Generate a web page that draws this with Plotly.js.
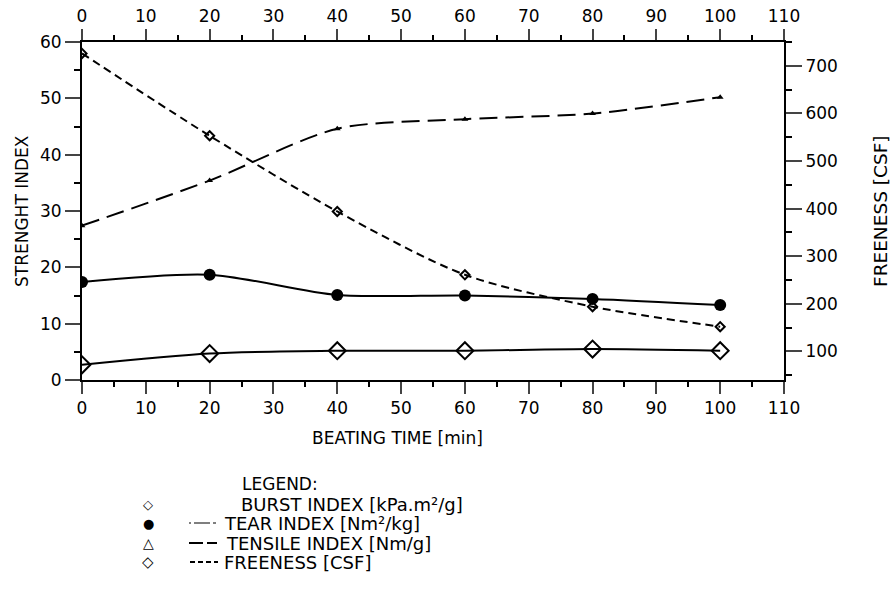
<!DOCTYPE html>
<html>
<head>
<meta charset="utf-8">
<script src="https://cdn.plot.ly/plotly-3.0.1.min.js"></script>
<style>html,body{margin:0;padding:0;background:#fff;}#chart{width:895px;height:594px;}</style>
</head>
<body>
<div id="chart"></div>
<script>
// ---- data ----
var beatingTime = [0, 20, 40, 60, 80, 100];
var burstIndex  = [2.7, 4.7, 5.2, 5.2, 5.5, 5.2];
var tearIndex   = [17.4, 18.7, 15.1, 15.0, 14.4, 13.3];
var tensileIndex = [27.4, 35.4, 44.6, 46.3, 47.3, 50.2];
var freeness    = [726, 553, 394, 261, 194, 152];

var legendTitle = "LEGEND:";
var legendLabels = ["BURST INDEX [kPa.m²/g]", "TEAR INDEX [Nm²/kg]", "TENSILE INDEX [Nm/g]", "FREENESS [CSF]"];
var legendSymbols = ["◇", "●", "△", "◇"];
var xTitle = "BEATING TIME [min]";
var yTitle = "STRENGHT INDEX";
var y2Title = "FREENESS [CSF]";

var FONT = "DejaVu Sans, Liberation Sans, sans-serif";
var black = "#000";

var traces = [
  {x: beatingTime, y: burstIndex, mode: "lines+markers", xaxis: "x", yaxis: "y",
   line: {color: black, width: 2, shape: "spline", smoothing: 0.8},
   marker: {symbol: "diamond-open", size: 13, color: black, line: {width: 2, color: black}}},
  {x: beatingTime, y: tearIndex, mode: "lines+markers", xaxis: "x", yaxis: "y",
   line: {color: black, width: 2, shape: "spline", smoothing: 0.8},
   marker: {symbol: "circle", size: 12, color: black}},
  {x: beatingTime, y: tensileIndex, mode: "lines+markers", xaxis: "x", yaxis: "y",
   line: {color: black, width: 2, dash: "18px,8px", shape: "spline", smoothing: 0.8},
   marker: {symbol: "triangle-up", size: 6, color: black}},
  {x: beatingTime, y: freeness, mode: "lines+markers", xaxis: "x", yaxis: "y2",
   line: {color: black, width: 2, dash: "8px,5px", shape: "spline", smoothing: 0.8},
   marker: {symbol: "diamond-open", size: 7, color: black, line: {width: 2, color: black}}},
  // invisible trace to activate the top axis
  {x: beatingTime, y: burstIndex, xaxis: "x2", yaxis: "y", mode: "markers",
   marker: {opacity: 0}, hoverinfo: "skip", showlegend: false}
];

var tickFont = {family: FONT, size: 17, color: black};

var W = 895, H = 594, L = 82, R = 111, T = 42, B = 214;
var pw = W - L - R, ph = H - T - B;
function px(xp) { return (xp - L) / pw; }
function py(yp) { return (H - B - yp) / ph; }

var annotations = [
  {text: xTitle, x: px(397), y: py(438), xref: "paper", yref: "paper", showarrow: false,
   font: {family: FONT, size: 17, color: black}, xanchor: "center", yanchor: "middle"},
  {text: yTitle, x: px(22), y: 0.5, xref: "paper", yref: "paper", showarrow: false, textangle: -90,
   font: {family: FONT, size: 17, color: black}, xanchor: "center", yanchor: "middle"},
  {text: y2Title, x: px(880), y: 0.5, xref: "paper", yref: "paper", showarrow: false, textangle: -90,
   font: {family: FONT, size: 18.5, color: black}, xanchor: "center", yanchor: "middle"},
  {text: legendTitle, x: px(240), y: py(484), xref: "paper", yref: "paper", showarrow: false,
   font: {family: FONT, size: 17, color: black}, xanchor: "left", yanchor: "middle"}
];
var rowY = [504, 523, 543, 562];
var labelX = [240, 223, 225, 223];
var symSize = [13, 13, 14, 15];
for (var i = 0; i < legendLabels.length; i++) {
  annotations.push({text: legendLabels[i], x: px(labelX[i]), y: py(rowY[i]), xref: "paper", yref: "paper",
    showarrow: false, font: {family: FONT, size: 18, color: black}, xanchor: "left", yanchor: "middle",
    borderpad: 0});
  annotations.push({text: legendSymbols[i], x: px(148), y: py(rowY[i]), xref: "paper", yref: "paper",
    showarrow: false, font: {family: FONT, size: symSize[i], color: black}, xanchor: "center", yanchor: "middle",
    borderpad: 0});
}

var shapes = [
  {type: "line", xref: "paper", yref: "paper", x0: px(189), x1: px(216), y0: py(523), y1: py(523),
   line: {color: black, width: 1.2, dash: "2px,3px,14px,0px"}},
  {type: "line", xref: "paper", yref: "paper", x0: px(189), x1: px(217), y0: py(543), y1: py(543),
   line: {color: black, width: 1.8, dash: "14px,4px"}},
  {type: "line", xref: "paper", yref: "paper", x0: px(190), x1: px(218), y0: py(562), y1: py(562),
   line: {color: black, width: 1.8, dash: "5px,3px"}}
];

var layout = {
  width: W, height: H,
  margin: {l: L, r: R, t: T, b: B, pad: 0},
  paper_bgcolor: "#fff", plot_bgcolor: "#fff",
  showlegend: false,
  font: {family: FONT, color: black},
  xaxis: {range: [0, 110], dtick: 10, tick0: 0, ticks: "outside", ticklen: 12, tickwidth: 2,
    showline: true, linewidth: 2, linecolor: black, showgrid: false, zeroline: false,
    tickfont: tickFont, anchor: "y", side: "bottom",
    minor: {dtick: 5, ticks: "outside", ticklen: 5, tickwidth: 2, tickcolor: black, showgrid: false}},
  xaxis2: {range: [0, 110], dtick: 10, tick0: 0, ticks: "outside", ticklen: 11, tickwidth: 2,
    showline: true, linewidth: 2, linecolor: black, showgrid: false, zeroline: false,
    tickfont: tickFont, overlaying: "x", side: "top", anchor: "y",
    minor: {dtick: 5, ticks: "outside", ticklen: 5, tickwidth: 2, tickcolor: black, showgrid: false}},
  yaxis: {range: [0, 60], dtick: 10, tick0: 0, ticks: "outside", ticklen: 15, tickwidth: 2,
    showline: true, linewidth: 2, linecolor: black, showgrid: false, zeroline: false,
    tickfont: tickFont, side: "left",
    minor: {dtick: 5, ticks: "outside", ticklen: 6, tickwidth: 2, tickcolor: black, showgrid: false}},
  yaxis2: {range: [40, 750], dtick: 100, tick0: 0, ticks: "outside", ticklen: 16, tickwidth: 2,
    showline: true, linewidth: 2, linecolor: black, showgrid: false, zeroline: false,
    tickfont: tickFont, overlaying: "y", side: "right", anchor: "x",
    minor: {dtick: 50, ticks: "outside", ticklen: 6, tickwidth: 2, tickcolor: black, showgrid: false}},
  annotations: annotations,
  shapes: shapes
};

Plotly.newPlot("chart", traces, layout, {staticPlot: true, displayModeBar: false});
</script>
</body>
</html>
